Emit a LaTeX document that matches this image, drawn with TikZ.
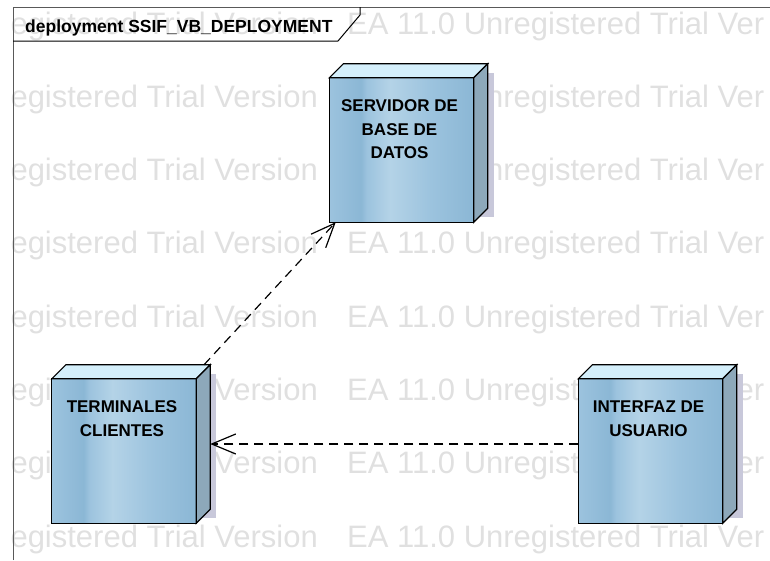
\documentclass[tikz,border=0pt]{standalone}
\usepackage{fontspec}
\setmainfont{Liberation Sans}
\usetikzlibrary{shapes,arrows,arrows.meta,positioning,backgrounds}
\definecolor{devedge}{HTML}{8BB7D5}
\definecolor{devlight}{HTML}{B4D3E7}
\definecolor{devmid}{HTML}{9CC3DE}
\definecolor{devtop}{HTML}{D4EFFB}
\definecolor{devside}{HTML}{8DA8BA}
\definecolor{devshadow}{HTML}{C8C8DA}
\pgfdeclarehorizontalshading{devface}{100bp}{color(0bp)=(devedge); color(25bp)=(devmid); color(36bp)=(devedge); color(38bp)=(devmid); color(46bp)=(devlight); color(60bp)=(devmid); color(75bp)=(devedge); color(100bp)=(devedge)}
\tikzstyle{device} = [rectangle, minimum width=158pt, minimum height=158pt, inner sep=0pt]
\tikzstyle{devtext} = [anchor=north, align=center, inner sep=0pt, xshift=-9pt, yshift=-36pt, font=\fontsize{17}{23.5}\selectfont\bfseries]
\tikzstyle{watermark} = [text=black!12, inner sep=0pt, font=\fontsize{31}{31}\selectfont]
\tikzstyle{line} = [draw, dash pattern=on 9pt off 6pt, line width=1.2pt, -{Straight Barb[length=24pt, width=20pt, line width=1.2pt]}]

\begin{document}
\begin{tikzpicture}[x=1pt, y=1pt]
	\useasboundingbox (0,0) rectangle (770,-560);
	% Frame
	\draw[black!65, line width=1pt] (13,-560) -- (13,-7) -- (770,-7);
	\draw[line width=1pt] (13,-41) -- (338,-41) -- (360,-15) -- (360,-7);
	\node[anchor=base west, inner sep=0pt, font=\fontsize{17.5}{20}\selectfont\bfseries] (frame-title) at (25,-32) {deployment SSIF\_VB\_DEPLOYMENT};
	
	% Nodes
	\node[device, label={[devtext]north:SERVIDOR DE\\BASE DE\\DATOS}] (servidor) at (408.5,-143) {};
	\node[device, label={[devtext]north:TERMINALES\\CLIENTES}] (terminales) at (131,-444) {};
	\node[device, right of=terminales, node distance=526.5pt, label={[devtext]north:INTERFAZ DE\\USUARIO}] (interfaz) {};
	
	\begin{pgfonlayer}{background}
	% Watermark
	\foreach \i in {0,...,7}{
		\node[watermark, anchor=base east] (wm-\i-a) at (318,-34-73.3*\i) {egistered Trial Version};
		\node[watermark, anchor=base west] (wm-\i-b) at (347,-34-73.3*\i) {EA 11.0 Unregistered Trial Ver};
	}
	% Node faces
	\foreach \n in {servidor,terminales,interfaz}{
		\fill[devshadow] ([xshift=20pt,yshift=5pt]\n.south west) rectangle ([xshift=6pt,yshift=-9pt]\n.north east);
		\shadedraw[shading=devface, line width=1.2pt] (\n.south west) rectangle ([xshift=-14pt,yshift=-14pt]\n.north east);
		\filldraw[fill=devtop, line width=1.2pt] ([yshift=-14pt]\n.north west) -- ([xshift=14pt]\n.north west) -- (\n.north east) -- ([xshift=-14pt,yshift=-14pt]\n.north east) -- cycle;
		\filldraw[fill=devside, line width=1.2pt] ([xshift=-14pt,yshift=-14pt]\n.north east) -- (\n.north east) -- ([yshift=14pt]\n.south east) -- ([xshift=-14pt]\n.south east) -- cycle;
	}
	\end{pgfonlayer}
	
	% Paths
	\path [line] (terminales) -- (servidor);
	\path [line] (interfaz) -- (terminales);
\end{tikzpicture}
\end{document}
